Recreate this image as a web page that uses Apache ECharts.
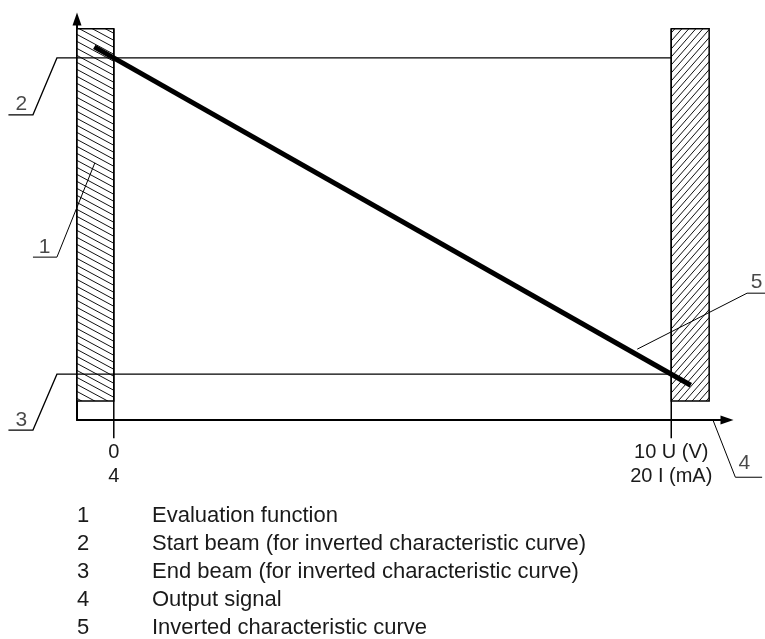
<!DOCTYPE html>
<html>
<head>
<meta charset="utf-8">
<script src="https://cdn.jsdelivr.net/npm/echarts@6/dist/echarts.min.js"></script>
<style>
  html, body { margin: 0; padding: 0; background: #fff; }
  #chart { width: 765px; height: 639px; }
</style>
</head>
<body>
<div id="chart"></div>
<script>
// x: output signal in volts (0 V = 4 mA, 10 V = 20 mA), y: beam position in % (end beam = 0, start beam = 100)
const xTicks = [0, 10];
const xTickLabels = ["0\n4", "10 U (V)\n20 I (mA)"];

// evaluation function zones: [xFrom, xTo, yFrom, yTo]
const zones = [
  [-0.66, 0, -8.5, 109.2],
  [10, 10.68, -8.5, 109.2],
];
const zoneHatch = ["back", "fwd"];

// beam lines incl. their leader lines
const startBeam = [[-1.89, 82], [-1.45, 82], [-1.02, 100], [10, 100]];
const endBeam = [[-1.89, -17.7], [-1.45, -17.7], [-1.02, 0], [10, 0]];
// inverted characteristic curve
const curve = [[-0.35, 103.5], [10.35, -3.5]];
// zone edges continued below the axis (tick marks)
const tick0 = [[0, 109.2], [0, -20.3]];
const tick10 = [[10, 109.2], [10, -20.3]];
// leader lines for callouts 1, 5, 4
const leader1 = [[-1.45, 37], [-1.02, 37], [-0.34, 66.8]];
const leader5 = [[9.39, 7.9], [11.36, 25.6], [11.7, 25.6]];
const leader4 = [[10.75, -14.6], [11.15, -32.6], [11.63, -32.6]];
// callout numbers [x, y, text]
const callouts = [
  [-1.24, 40, "1"],
  [-1.66, 85.3, "2"],
  [-1.66, -14.7, "3"],
  [11.31, -28.2, "4"],
  [11.53, 29.0, "5"],
];

const legendKeys = ["1", "2", "3", "4", "5"];
const legendTexts = [
  "Evaluation function",
  "Start beam (for inverted characteristic curve)",
  "End beam (for inverted characteristic curve)",
  "Output signal",
  "Inverted characteristic curve",
];

const FONT = '"Liberation Sans", Arial, sans-serif';

// hatch tiles
function hatchTile(w, h, dir) {
  const c = document.createElement("canvas");
  c.width = w;
  c.height = h;
  const g = c.getContext("2d");
  g.fillStyle = "#fff";
  g.fillRect(0, 0, w, h);
  g.strokeStyle = "#111";
  g.lineWidth = 1;
  for (let k = -1; k <= 1; k++) {
    g.beginPath();
    if (dir === "back") {
      g.moveTo(-w, k * h - h);
      g.lineTo(2 * w, k * h + 2 * h);
    } else {
      g.moveTo(-w, (k + 2) * h);
      g.lineTo(2 * w, (k - 1) * h);
    }
    g.stroke();
  }
  return c;
}
const patterns = {
  back: { image: hatchTile(13, 7, "back"), repeat: "repeat" },
  fwd: { image: hatchTile(7, 8, "fwd"), repeat: "repeat" },
};

// polylines drawn through the axes, not clipped to the grid
const polylines = [
  { pts: tick0, width: 1.5 },
  { pts: tick10, width: 1.5 },
  { pts: startBeam, width: 1.3 },
  { pts: endBeam, width: 1.3 },
  { pts: leader1, width: 1 },
  { pts: leader5, width: 1 },
  { pts: leader4, width: 1 },
  { pts: curve, width: 5 },
];

const chart = echarts.init(document.getElementById("chart"));
const option = {
  animation: false,
  grid: { left: 77, right: 38, top: 19, bottom: 219 },
  xAxis: {
    type: "value",
    min: -0.66,
    max: 11,
    splitLine: { show: false },
    axisTick: { show: false },
    axisLine: {
      onZero: false,
      symbol: ["none", "triangle"],
      symbolSize: [9, 13],
      lineStyle: { color: "#000", width: 2 },
    },
    axisLabel: {
      customValues: xTicks,
      formatter: (v) => xTickLabels[xTicks.indexOf(v)],
      fontFamily: FONT,
      fontSize: 20,
      lineHeight: 24,
      margin: 20,
      color: "#1a1a1a",
    },
  },
  yAxis: {
    type: "value",
    min: -14.5,
    max: 112.3,
    splitLine: { show: false },
    axisTick: { show: false },
    axisLabel: { show: false },
    axisLine: {
      onZero: false,
      symbol: ["none", "triangle"],
      symbolSize: [9, 13],
      lineStyle: { color: "#000", width: 2 },
    },
  },
  series: [
    {
      type: "custom",
      data: zones,
      silent: true,
      renderItem: (params, api) => {
        const p0 = api.coord([api.value(0), api.value(3)]);
        const p1 = api.coord([api.value(1), api.value(2)]);
        return {
          type: "rect",
          shape: { x: p0[0], y: p0[1], width: p1[0] - p0[0], height: p1[1] - p0[1] },
          style: {
            fill: patterns[zoneHatch[params.dataIndex]],
            stroke: "#000",
            lineWidth: 1.5,
          },
        };
      },
    },
    {
      type: "custom",
      data: polylines.map((p, i) => [p.pts[0][0], p.pts[0][1], i]),
      silent: true,
      clip: false,
      renderItem: (params, api) => {
        const pl = polylines[params.dataIndex];
        return {
          type: "polyline",
          shape: { points: pl.pts.map((p) => api.coord(p)) },
          style: { stroke: "#000", lineWidth: pl.width, fill: null, lineCap: "butt" },
        };
      },
    },
    {
      type: "scatter",
      data: callouts,
      symbolSize: 1,
      clip: false,
      silent: true,
      itemStyle: { color: "transparent" },
      label: {
        show: true,
        position: "inside",
        formatter: (p) => p.value[2],
        fontFamily: FONT,
        fontSize: 21,
        color: "#1a1a1a",
      },
    },
  ],
  graphic: legendKeys.flatMap((k, i) => [
    {
      type: "text",
      x: 83,
      y: 516 + i * 28,
      style: { text: k, font: "22px " + FONT, fill: "#1a1a1a", align: "center", verticalAlign: "middle" },
    },
    {
      type: "text",
      x: 152,
      y: 516 + i * 28,
      style: { text: legendTexts[i], font: "22px " + FONT, fill: "#1a1a1a", align: "left", verticalAlign: "middle" },
    },
  ]),
};
chart.setOption(option);
</script>
</body>
</html>
